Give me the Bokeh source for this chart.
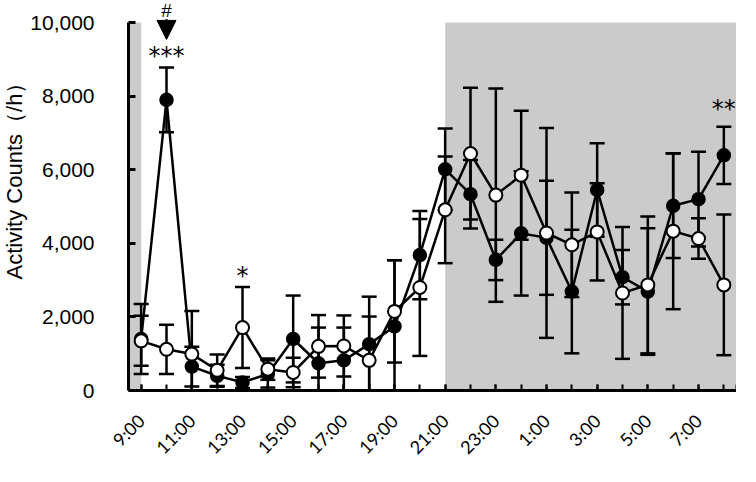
import numpy as np
from math import pi
from bokeh.plotting import figure
from bokeh.models import (ColumnDataSource, Whisker, TeeHead, BoxAnnotation, FixedTicker,
                          Arrow, NormalHead)
from bokeh.core.properties import value
from bokeh.embed import file_html
from bokeh.resources import INLINE

# ---- data ----
hours = ["9:00", "10:00", "11:00", "12:00", "13:00", "14:00", "15:00", "16:00",
         "17:00", "18:00", "19:00", "20:00", "21:00", "22:00", "23:00", "0:00",
         "1:00", "2:00", "3:00", "4:00", "5:00", "6:00", "7:00", "8:00"]
filled_mean = [1400, 7900, 650, 400, 220, 450, 1400, 740, 820, 1260, 1740, 3680,
               6010, 5335, 3550, 4270, 4150, 2690, 5450, 3080, 2690, 5020, 5200, 6390]
filled_err = [950, 880, 540, 300, 150, 370, 1180, 970, 890, 1290, 1800, 1200,
              1110, 930, 550, 1690, 1550, 1680, 1270, 740, 1720, 1420, 1290, 780]
open_mean = [1350, 1120, 990, 550, 1710, 580, 490, 1200, 1210, 820, 2150, 2800,
             4910, 6440, 5310, 5850, 4280, 3960, 4310, 2650, 2870, 4330, 4130, 2870]
open_err = [680, 670, 1170, 430, 1100, 290, 400, 850, 830, 1190, 1390, 1860,
            1450, 1790, 2900, 1750, 2850, 1420, 1320, 1790, 1860, 2120, 550, 1910]
y_ticks = [0, 2000, 4000, 6000, 8000, 10000]
y_tick_labels = ["0", "2,000", "4,000", "6,000", "8,000", "10,000"]
x_label_idx = list(range(0, 24, 2))
x_tick_labels = [hours[i] for i in x_label_idx]
y_title = "Activity Counts\uff08/h\uff09"
dark_periods = [(-0.5, 0), (12, 23.5)]
sig_x = [1, 4, 23]
sig_y = [9100, 3125, 7640]
sig_text = ["***", "*", "**"]
hash_x = 1
hash_y = 10320

# ---- layout constants (data units) ----
X_MIN, X_AXIS, X_MAX = -5.553, -0.5, 23.5
Y_MIN, Y_AXIS_TOP, Y_MAX = -1902, 10000, 10598
X_LABEL_Y = -734
Y_TITLE_X, Y_TITLE_Y = -5.0, 5842

x = np.arange(len(hours))
fm, fe = np.array(filled_mean), np.array(filled_err)
om, oe = np.array(open_mean), np.array(open_err)
src_f = ColumnDataSource(dict(x=x, y=fm, up=fm + fe, lo=np.maximum(0, fm - fe)))
src_o = ColumnDataSource(dict(x=x, y=om, up=om + oe, lo=np.maximum(0, om - oe)))

p = figure(width=736, height=460, output_backend="svg", toolbar_location=None,
           x_range=(X_MIN, X_MAX), y_range=(Y_MIN, Y_MAX),
           min_border_left=0, min_border_right=0, min_border_top=0, min_border_bottom=0)
p.outline_line_color = None
p.grid.visible = False
p.background_fill_color = "white"

for l, r in dark_periods:
    p.add_layout(BoxAnnotation(left=l, right=r, bottom=0, top=Y_AXIS_TOP, fill_color="#cbcbcb",
                               fill_alpha=1, line_color=None, level="underlay"))

for src in (src_f, src_o):
    p.add_layout(Whisker(source=src, base="x", upper="up", lower="lo", line_width=2.5,
                         line_color="black",
                         upper_head=TeeHead(size=15, line_width=2.5, line_color="black"),
                         lower_head=TeeHead(size=15, line_width=2.5, line_color="black")))

p.line("x", "y", source=src_f, line_color="black", line_width=2.5)
p.scatter("x", "y", source=src_f, size=13, fill_color="black", line_color="black", line_width=1.5)
p.line("x", "y", source=src_o, line_color="black", line_width=2.5)
p.scatter("x", "y", source=src_o, size=13, fill_color="white", line_color="black", line_width=2)

p.text(x=sig_x, y=sig_y, text=sig_text, text_align="center", text_baseline="middle",
       text_font=value("DejaVu Sans"), text_font_size="24px", text_color="black")
p.text(x=[hash_x], y=[hash_y], text=["#"], text_align="center", text_baseline="middle",
       text_font=value("Liberation Sans"), text_font_size="19px", text_color="black")
p.add_layout(Arrow(x_start=hash_x, y_start=10090, x_end=hash_x, y_end=9540, line_width=2.5,
                   end=NormalHead(size=19, fill_color="black", line_color="black")))

# y axis: line and ticks from Bokeh, placed at x = -0.5
ya = p.yaxis[0]
ya.fixed_location = X_AXIS
ya.bounds = (0, Y_AXIS_TOP)
ya.ticker = FixedTicker(ticks=y_ticks)
ya.major_label_overrides = {t: "" for t in y_ticks}
ya.major_label_text_font_size = "0px"
ya.major_label_standoff = 0
ya.axis_line_width = 3
ya.major_tick_line_width = 3
ya.major_tick_in = 7
ya.major_tick_out = 0
ya.minor_tick_line_color = None

# x axis: line and ticks from Bokeh, placed at y = 0
xa = p.xaxis[0]
xa.fixed_location = 0
xa.bounds = (X_AXIS, X_MAX)
xa.ticker = FixedTicker(ticks=x_label_idx, minor_ticks=list(range(24)) + [X_MAX])
xa.major_label_overrides = {i: "" for i in x_label_idx}
xa.major_label_text_font_size = "0px"
xa.major_label_standoff = 0
xa.axis_line_width = 3
xa.major_tick_line_width = 2
xa.minor_tick_line_width = 2
xa.major_tick_in = 6
xa.major_tick_out = 0
xa.minor_tick_in = 6
xa.minor_tick_out = 0

# tick labels and axis title, set on the same scales
p.text(x=[X_AXIS] * len(y_ticks), y=y_ticks, text=y_tick_labels, x_offset=-34,
       text_align="right", text_baseline="middle",
       text_font=value("Liberation Sans"), text_font_size="21px", text_color="black")
p.text(x=x_label_idx, y=[X_LABEL_Y] * len(x_label_idx), text=x_tick_labels,
       angle=pi / 4, text_align="right", text_baseline="middle",
       text_font=value("Lato"), text_font_size="18px", text_color="black")
p.text(x=[Y_TITLE_X], y=[Y_TITLE_Y], text=[y_title], angle=pi / 2,
       text_align="center", text_baseline="middle",
       text_font=value("Liberation Sans"), text_font_size="22px", text_color="black")

open("out.html", "w").write(file_html(p, INLINE))
